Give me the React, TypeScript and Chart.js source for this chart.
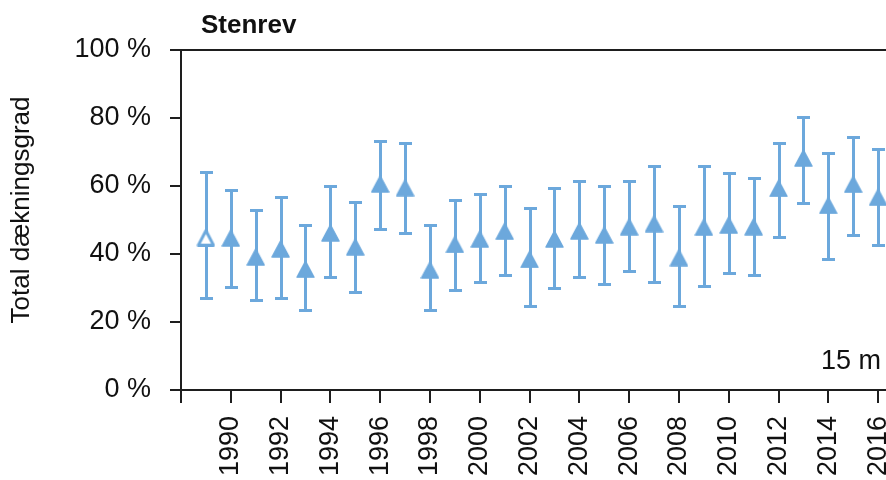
import React, { useEffect, useRef } from 'react';
import { Chart, registerables } from 'chart.js';

Chart.register(...registerables);

// ---- data ----
const years = [
  1989, 1990, 1991, 1992, 1993, 1994, 1995, 1996, 1997, 1998, 1999, 2000, 2001, 2002,
  2003, 2004, 2005, 2006, 2007, 2008, 2009, 2010, 2011, 2012, 2013, 2014, 2015, 2016,
];
const coverage = [
  44.8, 44.7, 39.1, 41.5, 35.5, 46.2, 42.1, 60.6, 59.5, 35.3, 42.8, 44.4, 46.7, 38.4,
  44.4, 46.8, 45.6, 48.0, 48.9, 38.9, 47.9, 48.5, 48.0, 59.3, 68.2, 54.3, 60.5, 56.7,
];
const upper = [
  64.2, 58.8, 52.9, 56.9, 48.6, 60.0, 55.2, 73.1, 72.6, 48.6, 55.9, 57.6, 60.0, 53.4,
  59.4, 61.4, 60.0, 61.4, 66.0, 54.1, 66.0, 63.7, 62.4, 72.7, 80.4, 69.6, 74.5, 70.9,
];
const lower = [
  27.1, 30.2, 26.5, 27.1, 23.5, 33.1, 28.9, 47.5, 46.3, 23.5, 29.4, 31.9, 33.7, 24.7,
  30.1, 33.1, 31.3, 34.9, 31.9, 24.7, 30.7, 34.3, 33.7, 45.1, 55.1, 38.4, 45.6, 42.6,
];
const openYears = [1989];

const chartTitle = 'Stenrev';
const yAxisTitle = 'Total dækningsgrad';
const depthLabel = '15 m';

// ---- style ----
const BLUE = '#6ca8dc';
const AXIS = '#1e1e1e';
const TEXT = '#111111';
const FONT = '"Liberation Sans", Arial, Helvetica, sans-serif';

function makeTriangle(filled: boolean): HTMLCanvasElement {
  const w = 19;
  const h = 18;
  const c = document.createElement('canvas');
  c.width = w;
  c.height = h;
  const g = c.getContext('2d')!;
  g.beginPath();
  g.lineJoin = 'round';
  g.strokeStyle = BLUE;
  if (filled) {
    g.moveTo(w / 2, 1);
    g.lineTo(w - 1, h - 1);
    g.lineTo(1, h - 1);
    g.closePath();
    g.fillStyle = BLUE;
    g.fill();
    g.lineWidth = 1.5;
    g.stroke();
  } else {
    g.moveTo(w / 2, 2);
    g.lineTo(w - 2, h - 1.6);
    g.lineTo(2, h - 1.6);
    g.closePath();
    g.fillStyle = '#ffffff';
    g.fill();
    g.lineWidth = 3;
    g.stroke();
  }
  return c;
}

const errorBarPlugin = {
  id: 'errorBars',
  beforeDatasetsDraw(chart: any) {
    const { ctx, scales } = chart;
    const x = scales.x;
    const y = scales.y;
    ctx.save();
    ctx.strokeStyle = BLUE;
    ctx.lineWidth = 3;
    ctx.lineCap = 'butt';
    years.forEach((yr, i) => {
      const px = Math.round(x.getPixelForValue(yr)) + 0.5;
      const top = Math.round(y.getPixelForValue(upper[i])) + 0.5;
      const bot = Math.round(y.getPixelForValue(lower[i])) + 0.5;
      ctx.beginPath();
      ctx.moveTo(px, top);
      ctx.lineTo(px, bot);
      ctx.moveTo(px - 6.5, top);
      ctx.lineTo(px + 6.5, top);
      ctx.moveTo(px - 6.5, bot);
      ctx.lineTo(px + 6.5, bot);
      ctx.stroke();
    });
    ctx.restore();
  },
};

const decorPlugin = {
  id: 'decor',
  afterDraw(chart: any) {
    const { ctx, chartArea } = chart;
    const { left, right, top, bottom } = chartArea;
    ctx.save();
    // top and right frame
    ctx.strokeStyle = AXIS;
    ctx.lineWidth = 2;
    ctx.beginPath();
    ctx.moveTo(left, top);
    ctx.lineTo(right, top);
    ctx.lineTo(right, bottom);
    ctx.stroke();

    // title
    ctx.fillStyle = TEXT;
    ctx.font = `bold 26px ${FONT}`;
    ctx.textAlign = 'left';
    ctx.textBaseline = 'alphabetic';
    ctx.fillText(chartTitle, left + 20, top - 17);

    // depth label
    ctx.font = `27px ${FONT}`;
    ctx.textAlign = 'right';
    ctx.fillText(depthLabel, right - 22, bottom - 21);

    // y-axis title
    ctx.font = `26px ${FONT}`;
    ctx.textAlign = 'center';
    ctx.translate(29, (top + bottom) / 2 - 10);
    ctx.rotate(-Math.PI / 2);
    ctx.fillText(yAxisTitle, 0, 0);
    ctx.restore();
  },
};

export default function App() {
  const ref = useRef<HTMLCanvasElement | null>(null);

  useEffect(() => {
    const canvas = ref.current;
    if (!canvas) return;
    const filledTri = makeTriangle(true);
    const openTri = makeTriangle(false);

    const chart = new Chart(canvas, {
      type: 'scatter',
      data: {
        datasets: [
          {
            data: years.map((yr, i) => ({ x: yr, y: coverage[i] })),
            pointStyle: (c: any) =>
              openYears.includes(years[c.dataIndex]) ? openTri : filledTri,
            pointRadius: 10,
            backgroundColor: BLUE,
            borderColor: BLUE,
          } as any,
        ],
      },
      options: {
        animation: false,
        responsive: false,
        maintainAspectRatio: false,
        layout: { autoPadding: false, padding: { top: 50, left: 0, right: 0, bottom: 0 } },
        plugins: {
          legend: { display: false },
          tooltip: { enabled: false },
          title: { display: false },
        },
        scales: {
          x: {
            type: 'linear',
            min: 1988,
            max: 2017,
            afterFit: (s: any) => {
              s.height = 90;
              s.paddingLeft = 0;
              s.paddingRight = 0;
            },
            border: { display: true, color: AXIS, width: 2 },
            grid: {
              drawOnChartArea: false,
              drawTicks: true,
              tickLength: 13,
              color: AXIS,
              lineWidth: 2,
            },
            ticks: {
              stepSize: 2,
              includeBounds: false,
              autoSkip: false,
              minRotation: 90,
              maxRotation: 90,
              padding: 13,
              color: TEXT,
              font: { family: FONT, size: 27 },
              callback: (v: any) => (v === 1988 ? '' : String(v)),
            } as any,
          },
          y: {
            min: 0,
            max: 100,
            afterFit: (s: any) => {
              s.width = 181;
            },
            border: { display: true, color: AXIS, width: 2 },
            grid: {
              drawOnChartArea: false,
              drawTicks: true,
              tickLength: 11,
              color: AXIS,
              lineWidth: 2,
            },
            ticks: {
              stepSize: 20,
              padding: 19,
              color: TEXT,
              font: { family: FONT, size: 27 },
              callback: (v: any) => `${v} %`,
            },
          },
        },
      },
      plugins: [errorBarPlugin, decorPlugin],
    } as any);

    return () => chart.destroy();
  }, []);

  return (
    <div
      style={{
        position: 'absolute',
        left: 0,
        top: 0,
        width: 886,
        height: 480,
        overflow: 'hidden',
        background: '#ffffff',
      }}
    >
      <canvas ref={ref} width={903} height={480} style={{ display: 'block' }} />
    </div>
  );
}
